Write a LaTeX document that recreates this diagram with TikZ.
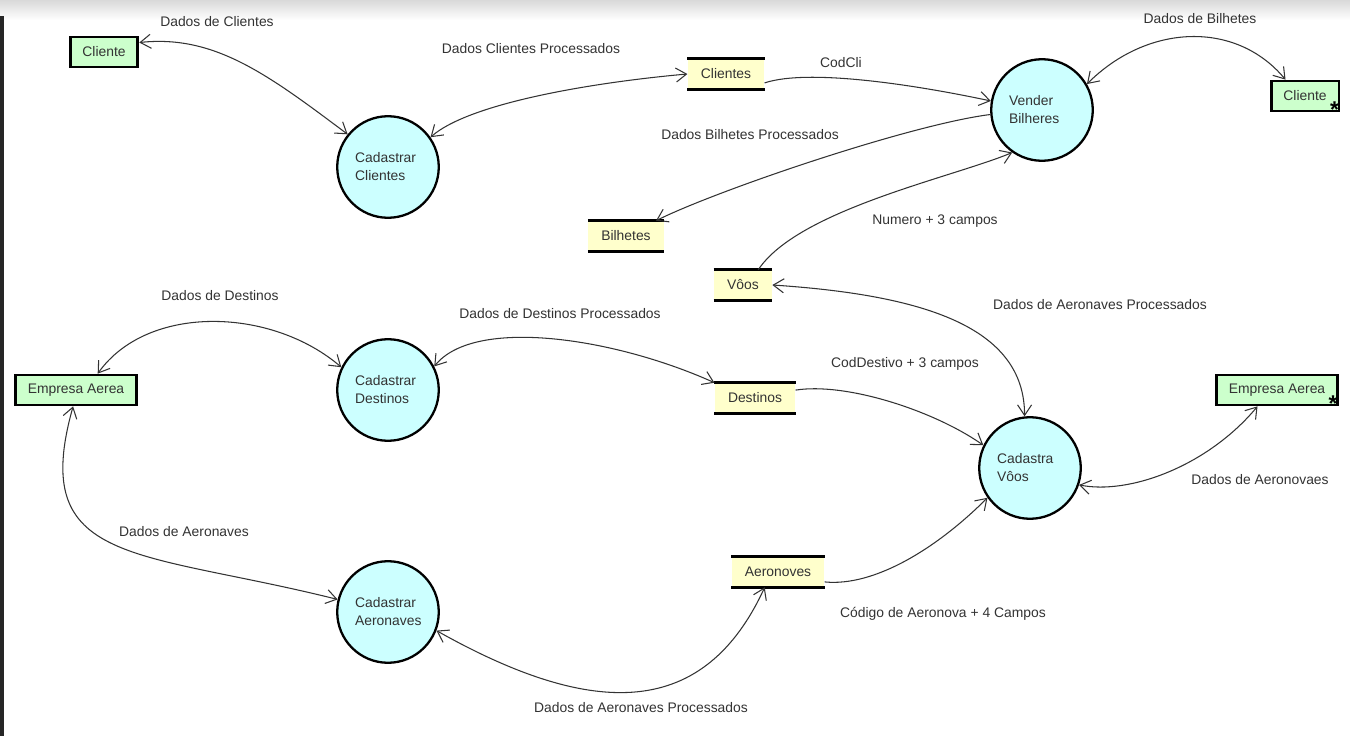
\documentclass[tikz,border=0pt]{standalone}
\usepackage{fontspec}
\setmainfont{Liberation Sans}
\usetikzlibrary{positioning,arrows.meta}
\definecolor{procC}{HTML}{CCFFFF}
\definecolor{storeC}{HTML}{FFFFCC}
\definecolor{extC}{HTML}{CCFFCC}
\definecolor{lineC}{HTML}{333333}
\newcommand{\dfdfont}{\fontsize{7.9}{10.2}\selectfont}

\begin{document}
\begin{tikzpicture}[x=0.02cm,y=0.02cm,
  >={Straight Barb[length=6pt,width=8pt]},
  every node/.style={font=\dfdfont,text=lineC},
  proc/.style={circle,draw=black,line width=1.3pt,fill=procC,minimum size=57.8pt,
    text width=37.4pt,align=left,inner sep=0pt},
  ext/.style={rectangle,draw=black,line width=1.6pt,fill=extC,minimum height=17pt,inner xsep=7pt},
  store/.style={rectangle,fill=storeC,minimum height=17pt,inner xsep=7.5pt},
  flow/.style={draw=lineC,line width=0.6pt}]
  \useasboundingbox (0,0) rectangle (1350,-736);

  % window chrome
  \fill[white] (0,0) rectangle (1350,-736);
  \shade[top color=black!15,bottom color=white] (0,0) rectangle (1350,-20);
  \fill[black!85] (0,-16) rectangle (4,-736);

  % processes
  \node[proc] (cadCli) at (388,-167) {Cadastrar\\Clientes};
  \node[proc] (venB) at (1042,-110) {Vender\\Bilheres};
  \node[proc] (cadDes) at (388,-390) {Cadastrar\\Destinos};
  \node[proc] (cadVoo) at (1030,-468) {Cadastra\\Vôos};
  \node[proc] (cadAer) at (388,-612) {Cadastrar\\Aeronaves};

  % external entities
  \node[ext] (cliL) at (104,-52) {Cliente};
  \node[ext] (cliR) at (1305,-96) {Cliente};
  \node[ext] (empL) at (76,-390) {Empresa Aerea};
  \node[ext] (empR) at (1277,-390) {Empresa Aerea};
  \foreach \e in {cliR,empR}{
    \node[anchor=north east,inner sep=0pt,text=black,font=\fontsize{13}{13}\selectfont\bfseries]
      (\e-ast) at ([shift={(-1,11)}]\e.south east) {*};
  }

  % data stores
  \node[store] (stoCli) at (726,-74) {Clientes};
  \node[store] (stoBil) at (626,-236) {Bilhetes};
  \node[store] (stoVoo) at (743,-285) {Vôos};
  \node[store] (stoDes) at (755,-398) {Destinos};
  \node[store] (stoAer) at (778,-572) {Aeronoves};
  \foreach \s in {stoCli,stoBil,stoVoo,stoDes,stoAer}{
    \draw[line width=1.6pt] (\s.north west) -- (\s.north east) (\s.south west) -- (\s.south east);
  }

  % flows: clientes / bilhetes
  \draw[flow,<->] (cliL.15) .. controls +(75,8) and +(-80,60) .. (cadCli.141);
  \draw[flow,<->] (cadCli.35) .. controls +(40,35) and +(-90,-8) .. (stoCli.west);
  \draw[flow,->] (stoCli.-13) .. controls +(45,15) and +(-70,15) .. (venB.170);
  \draw[flow,->] (venB.185) .. controls +(-80,-10) and +(60,30) .. (stoBil.27);
  \draw[flow,->] (stoVoo.45) .. controls +(40,60) and +(-60,-25) .. (venB.235);
  \draw[flow,<->] (venB.30) .. controls +(60,60) and +(-50,60) .. (cliR.140);

  % flows: voos / destinos / aeronaves
  \draw[flow,<->] (stoVoo.east) .. controls +(150,-10) and +(0,90) .. (cadVoo.96);
  \draw[flow,<->] (empL.37) .. controls +(50,70) and +(-70,60) .. (cadDes.154);
  \draw[flow,<->] (cadDes.27) .. controls +(40,50) and +(-100,45) .. (stoDes.north west);
  \draw[flow,->] (stoDes.11) .. controls +(50,8) and +(-50,35) .. (cadVoo.154);
  \draw[flow,<->] (cadVoo.-19) .. controls +(50,-10) and +(-50,-60) .. (empR.220);
  \draw[flow,<->] (empL.260) .. controls +(-45,-160) and +(-200,50) .. (cadAer.166);
  \draw[flow,<->] (cadAer.-21) .. controls +(160,-90) and +(-60,-130) .. (stoAer.229);
  \draw[flow,->] (stoAer.-12) .. controls +(50,-5) and +(-50,-50) .. (cadVoo.215);

  % flow labels
  \node (lDCli) at (217,-22) {Dados de Clientes};
  \node (lDCliP) at (531,-49) {Dados Clientes Processados};
  \node (lCod) at (841,-63) {CodCli};
  \node (lDBilP) at (750,-135) {Dados Bilhetes Processados};
  \node (lNum) at (935,-221) {Numero + 3 campos};
  \node (lDBil) at (1200,-19) {Dados de Bilhetes};
  \node (lDDes) at (220,-296) {Dados de Destinos};
  \node (lDDesP) at (560,-314) {Dados de Destinos Processados};
  \node (lDAerV) at (1100,-305) {Dados de Aeronaves Processados};
  \node (lCodD) at (905,-364) {CodDestivo + 3 campos};
  \node (lDAerR) at (1260,-480) {Dados de Aeronovaes};
  \node (lDAer) at (184,-532) {Dados de Aeronaves};
  \node (lCodA) at (943,-614) {Código de Aeronova + 4 Campos};
  \node (lDAerP) at (641,-708) {Dados de Aeronaves Processados};
\end{tikzpicture}
\end{document}
